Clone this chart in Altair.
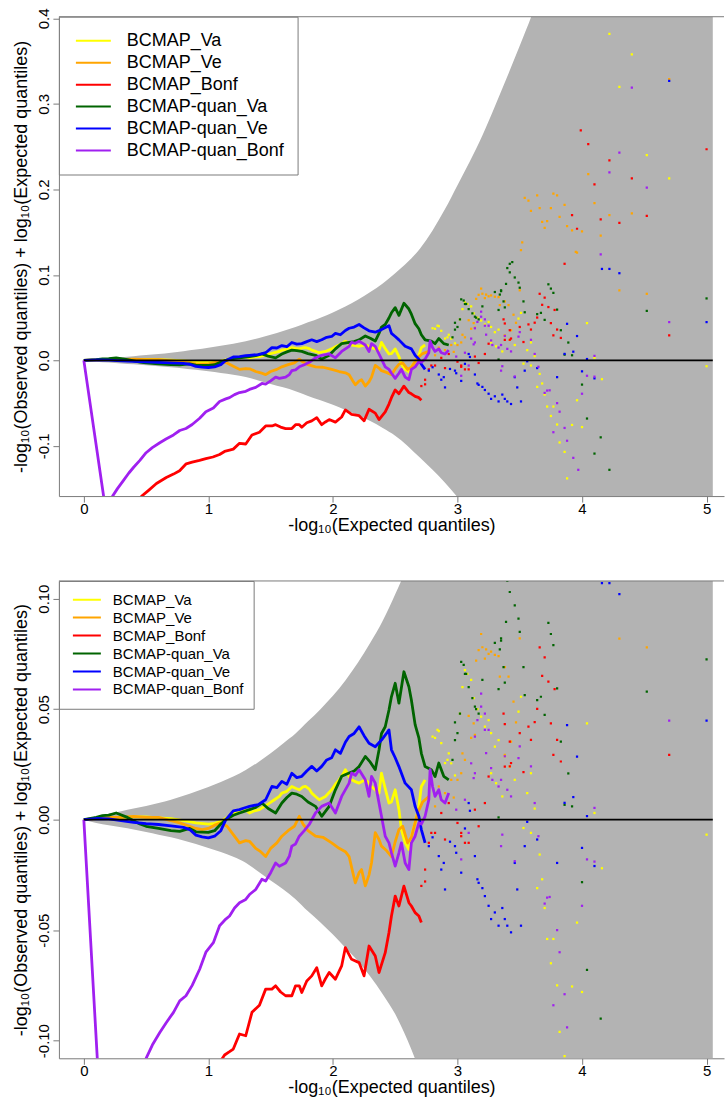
import altair as alt
import pandas as pd

FONT = "Liberation Sans"
SERIES = ["BCMAP_Va", "BCMAP_Ve", "BCMAP_Bonf", "BCMAP-quan_Va", "BCMAP-quan_Ve", "BCMAP-quan_Bonf"]
COLORS = ["#FFFF00", "#FFA500", "#FF0000", "#006400", "#0000FF", "#A020F0"]
BAND_COLOR = "#B3B3B3"
FRAME_COLOR = "#7a7a7a"

X_DOMAIN = [-0.2, 5.14]
X_TICKS = [0, 1, 2, 3, 4, 5]

# confidence band (upper / lower edge)
BAND_X = [0.0, 0.1, 0.2, 0.3, 0.4, 0.5, 0.6, 0.7, 0.8, 0.9, 1.0, 1.1, 1.2, 1.3, 1.4, 1.5, 1.6, 1.7,
          1.8, 1.9, 2.0, 2.1, 2.2, 2.3, 2.4, 2.5, 2.6, 2.7, 2.8, 2.9, 3.0, 3.1, 3.2, 3.3, 3.4, 3.5,
          3.6, 3.8, 4.0, 4.5, 5.05]
BAND_HI = [0.0, 0.0015, 0.0027, 0.0038, 0.005, 0.0062, 0.0075, 0.009, 0.0108, 0.0127, 0.0148,
           0.017, 0.0195, 0.0225, 0.026, 0.030, 0.0345, 0.039, 0.0445, 0.050, 0.056, 0.063, 0.071,
           0.080, 0.090, 0.102, 0.115, 0.131, 0.152, 0.177, 0.205, 0.233, 0.263, 0.297, 0.332,
           0.368, 0.405, 0.49, 0.60, 0.95, 1.5]
BAND_LO = [0.0, -0.0015, -0.0025, -0.0035, -0.0045, -0.0056, -0.0068, -0.008, -0.0094, -0.011,
           -0.0128, -0.0147, -0.0168, -0.0195, -0.0235, -0.0275, -0.0315, -0.036, -0.0415, -0.0465,
           -0.052, -0.058, -0.064, -0.071, -0.079, -0.088, -0.100, -0.114, -0.128, -0.143, -0.160,
           -0.178, -0.197, -0.218, -0.241, -0.265, -0.29, -0.345, -0.41, -0.6, -0.9]

ZERO_X = [0.0, 5.05]
ZERO_Y = [0.0, 0.0]

# ---- BCMAP_Va (yellow)
VA_LINE_X = [0, 0.1, 0.2, 0.3, 0.4, 0.5, 0.6, 0.7, 0.8, 0.9, 1.0, 1.05, 1.1, 1.15, 1.2, 1.25, 1.3,
             1.33, 1.37, 1.41, 1.45, 1.49, 1.53, 1.57, 1.59, 1.63, 1.67, 1.70, 1.73, 1.76, 1.78,
             1.81, 1.83, 1.86, 1.89, 1.94, 1.99, 2.02, 2.05, 2.08, 2.10, 2.13, 2.15, 2.18, 2.21,
             2.24, 2.26, 2.29, 2.31, 2.34, 2.37, 2.39, 2.42, 2.45, 2.47, 2.50, 2.53, 2.55, 2.58,
             2.61, 2.63, 2.66, 2.69, 2.71, 2.74]
VA_LINE_Y = [0, 0.0005, 0.0008, 0.001, 0.0012, 0.0012, 0.0008, 0.0004, -0.0005, -0.0015, -0.002,
             -0.0017, -0.0008, 0.001, 0.0028, 0.0038, 0.0045, 0.003, 0.004, 0.0045, 0.006, 0.0075,
             0.009, 0.0105, 0.012, 0.0128, 0.015, 0.0142, 0.0135, 0.0148, 0.015, 0.0138, 0.012,
             0.0105, 0.009, 0.0105, 0.0135, 0.016, 0.018, 0.0205, 0.0226, 0.0195, 0.018, 0.0172,
             0.0165, 0.0175, 0.018, 0.0165, 0.015, 0.0135, 0.012, 0.021, 0.014, 0.0075, 0.008,
             0.0135, 0.0045, -0.0045, -0.0105, -0.0135, -0.0075, -0.0015, 0.006, 0.015, 0.018]
VA_PTS_X = [2.80, 2.82, 2.84, 2.85, 2.87, 2.90, 2.92, 2.93, 2.95, 2.98, 3.02, 3.04, 3.06, 3.08,
            3.11, 3.13, 3.16, 3.19, 3.22, 3.25, 3.27, 3.27, 3.30, 3.31, 3.33, 3.36, 3.38, 3.42,
            3.46, 3.49, 3.51, 3.53, 3.56, 3.59, 3.59, 3.62, 3.64, 3.66, 3.68, 3.70, 3.72, 3.75,
            3.77, 3.80, 3.82, 3.86, 3.88, 3.92, 3.96, 4.00, 4.04, 4.10, 4.16, 4.22, 4.30, 4.40,
            4.52, 4.70, 5.0]
VA_PTS_Y = [0.0376, 0.037, 0.0406, 0.040, 0.0346, 0.0256, 0.027, 0.030, 0.0255, 0.020, 0.048,
            0.060, 0.0677, 0.066, 0.0632, 0.055, 0.050, 0.0466, 0.0421, 0.045, 0.0391, 0.021,
            0.033, 0.0165, 0.036, 0.0105, 0.0285, 0.024, 0.018, 0.0489, 0.0556, -0.0038, 0.012,
            0.021, -0.006, 0.005, -0.031, -0.0158, -0.027, -0.040, -0.054, -0.065, -0.054, -0.075,
            -0.096, -0.107, -0.138, -0.0755, -0.0466, -0.078, 0.0436, 0.003, -0.022, 0.382, 0.320,
            0.358, 0.240, 0.213, -0.0068]

# ---- BCMAP_Ve (orange)
VE_LINE_X = [0, 0.1, 0.2, 0.3, 0.4, 0.5, 0.6, 0.7, 0.77, 0.85, 0.9, 0.95, 1.0, 1.05, 1.1, 1.15, 1.2,
             1.25, 1.3, 1.33, 1.38, 1.42, 1.46, 1.5, 1.55, 1.59, 1.64, 1.69, 1.73, 1.76, 1.8, 1.86,
             1.92, 1.99, 2.05, 2.10, 2.13, 2.16, 2.18, 2.21, 2.23, 2.26, 2.29, 2.31, 2.34, 2.37,
             2.39, 2.43, 2.47, 2.50, 2.53, 2.56, 2.60, 2.63, 2.68, 2.72, 2.77]
VE_LINE_Y = [0, 0.0005, 0.001, 0.001, 0.0015, 0.001, 0.001, -0.0005, -0.0015, -0.003, -0.004,
             -0.0045, -0.004, -0.0025, -0.0015, -0.003, -0.0068, -0.0105, -0.0095, -0.0098, -0.013,
             -0.0145, -0.0167, -0.013, -0.0105, -0.0075, -0.005, -0.003, 0.0015, -0.002, -0.005,
             -0.0075, -0.008, -0.0105, -0.013, -0.0145, -0.0167, -0.024, -0.0286, -0.024, -0.0226,
             -0.030, -0.025, -0.0195, -0.0059, -0.009, -0.012, -0.014, -0.0167, -0.010, -0.0045,
             -0.003, -0.0105, -0.008, 0.003, 0.008, 0.0105]
VE_PTS_X = [2.82, 2.85, 2.90, 2.95, 2.97, 3.00, 3.03, 3.04, 3.06, 3.09, 3.11, 3.13, 3.14, 3.15,
            3.17, 3.19, 3.20, 3.22, 3.23, 3.25, 3.27, 3.30, 3.33, 3.34, 3.38, 3.38, 3.41, 3.43,
            3.45, 3.47, 3.50, 3.51, 3.52, 3.54, 3.57, 3.59, 3.64, 3.66, 3.68, 3.70, 3.72, 3.75,
            3.77, 3.80, 3.82, 3.86, 3.88, 3.92, 3.95, 3.96, 4.00, 4.05, 4.10, 4.15, 4.22, 4.30,
            4.40, 4.52, 4.70]
VE_PTS_Y = [0.006, 0.015, 0.012, 0.018, 0.010, 0.018, 0.021, 0.030, 0.027, 0.047, 0.037, 0.0436,
            0.0384, 0.072, 0.0767, 0.084, 0.078, 0.0729, 0.077, 0.075, 0.076, 0.0745, 0.074,
            0.0647, 0.069, 0.0293, 0.0647, 0.0353, 0.0534, 0.044, 0.082, 0.129, 0.138, 0.190,
            0.187, 0.175, 0.193, 0.178, 0.162, 0.155, 0.163, 0.178, 0.195, 0.193, 0.168, 0.182,
            0.157, 0.152, 0.127, 0.126, 0.151, 0.218, 0.184, 0.146, 0.170, 0.0819, 0.172, 0.0779,
            0.329]

# ---- BCMAP_Bonf (red)
BO_LINE_X = [0.35, 0.42, 0.463, 0.52, 0.583, 0.662, 0.72, 0.769, 0.822, 0.87, 0.929, 0.98, 1.036,
             1.09, 1.13, 1.17, 1.20, 1.25, 1.30, 1.35, 1.41, 1.46, 1.51, 1.54, 1.58, 1.62, 1.67,
             1.70, 1.73, 1.75, 1.79, 1.83, 1.87, 1.91, 1.94, 1.97, 2.02, 2.07, 2.10, 2.15, 2.21,
             2.25, 2.29, 2.34, 2.37, 2.42, 2.45, 2.47, 2.50, 2.53, 2.57, 2.61, 2.63, 2.66, 2.69,
             2.71]
BO_LINE_Y = [-0.2, -0.172, -0.159, -0.152, -0.144, -0.137, -0.133, -0.129, -0.121, -0.119, -0.117,
             -0.115, -0.113, -0.110, -0.1065, -0.105, -0.1038, -0.097, -0.0978, -0.0872, -0.084,
             -0.0767, -0.0767, -0.0752, -0.078, -0.0797, -0.0797, -0.0752, -0.0752, -0.0782,
             -0.073, -0.0707, -0.067, -0.0752, -0.072, -0.0692, -0.0722, -0.0662, -0.0579,
             -0.0632, -0.0647, -0.0707, -0.0572, -0.0617, -0.0692, -0.0602, -0.0511, -0.0436,
             -0.0346, -0.0391, -0.0301, -0.0376, -0.0391, -0.0421, -0.0436, -0.0466]
BO_PTS_X = [2.71, 2.74, 2.74, 2.77, 2.79, 2.82, 2.87, 2.90, 2.93, 3.00, 3.03, 3.03, 3.06, 3.09,
            3.14, 3.17, 3.22, 3.25, 3.37, 3.38, 3.38, 3.42, 3.42, 3.43, 3.50, 3.53, 3.57, 3.59,
            3.62, 3.64, 3.66, 3.68, 3.70, 3.73, 3.75, 3.77, 3.78, 3.80, 3.83, 3.86, 3.92, 3.96,
            3.99, 4.05, 4.10, 4.15, 4.22, 4.30, 4.40, 4.52, 4.70, 5.0]
BO_PTS_Y = [-0.030, -0.0226, -0.028, -0.0105, -0.006, -0.006, 0.003, -0.009, 0.0075, -0.0015,
            -0.0075, -0.006, -0.0105, -0.0105, 0.0045, -0.003, 0.0075, 0.0195, 0.048, 0.0432,
            0.024, 0.0353, 0.0241, 0.0256, 0.0391, 0.0215, 0.0421, 0.0361, 0.0441, 0.0501, 0.0779,
            0.0650, 0.0734, 0.0624, 0.0436, 0.0293, 0.059, 0.0361, 0.0263, 0.113, 0.170, 0.154,
            0.269, 0.253, 0.206, 0.165, 0.234, 0.161, 0.213, 0.169, 0.0293, 0.247]

# ---- BCMAP-quan_Va (dark green)
QA_LINE_X = [0, 0.1, 0.15, 0.2, 0.26, 0.35, 0.45, 0.5, 0.6, 0.7, 0.77, 0.85, 0.9, 1.0, 1.05, 1.1,
             1.14, 1.2, 1.25, 1.33, 1.38, 1.43, 1.48, 1.54, 1.59, 1.63, 1.67, 1.71, 1.75, 1.80,
             1.86, 1.91, 1.97, 2.02, 2.07, 2.13, 2.17, 2.21, 2.26, 2.30, 2.34, 2.37, 2.39, 2.42,
             2.45, 2.47, 2.50, 2.53, 2.57, 2.61, 2.63, 2.66, 2.69, 2.71, 2.74, 2.79, 2.82, 2.85,
             2.89, 2.93]
QA_LINE_Y = [0, 0.001, 0.0018, 0.002, 0.003, 0.001, -0.002, -0.003, -0.004, -0.005, -0.0053,
             -0.004, -0.0055, -0.0058, -0.005, -0.002, 0.0, 0.002, 0.003, 0.0045, 0.0055, 0.0075,
             0.005, 0.003, 0.0075, 0.010, 0.012, 0.0115, 0.0105, 0.008, 0.006, 0.0015, 0.006,
             0.0135, 0.0196, 0.0211, 0.022, 0.024, 0.0286, 0.026, 0.0226, 0.0315, 0.039, 0.042,
             0.0496, 0.0557, 0.0617, 0.0527, 0.0669, 0.0601, 0.0541, 0.043, 0.037, 0.030, 0.024,
             0.0226, 0.0195, 0.0256, 0.0196, 0.018]
QA_PTS_X = [2.96, 2.98, 2.98, 3.00, 3.02, 3.03, 3.05, 3.06, 3.07, 3.09, 3.12, 3.14, 3.15, 3.17,
            3.20, 3.30, 3.33, 3.33, 3.34, 3.35, 3.35, 3.37, 3.38, 3.39, 3.40, 3.42, 3.42, 3.44,
            3.46, 3.49, 3.50, 3.53, 3.54, 3.64, 3.67, 3.70, 3.73, 3.75, 3.77, 3.80, 3.83, 3.86,
            3.89, 3.92, 4.00, 4.04, 4.10, 4.15, 4.22, 4.52, 5.0]
QA_PTS_Y = [0.027, 0.036, 0.044, 0.0391, 0.048, 0.0714, 0.070, 0.066, 0.066, 0.060, 0.055, 0.0511,
            0.050, 0.048, 0.0632, 0.080, 0.059, 0.001, 0.077, 0.081, 0.082, 0.069, 0.062, 0.0895,
            0.108, 0.103, 0.113, 0.115, 0.097, 0.091, 0.085, 0.069, 0.0563, 0.0541, 0.0556,
            0.0474, 0.089, 0.084, 0.079, 0.0594, 0.0353, 0.0067, 0.0209, 0.006, -0.0283, -0.068,
            -0.109, -0.090, -0.128, 0.0579, 0.0725]

# ---- BCMAP-quan_Ve (blue)
QE_LINE_X = [0, 0.1, 0.2, 0.3, 0.4, 0.5, 0.6, 0.7, 0.8, 0.85, 0.9, 0.95, 1.0, 1.05, 1.1, 1.14, 1.2,
             1.25, 1.3, 1.33, 1.4, 1.46, 1.51, 1.55, 1.59, 1.63, 1.67, 1.71, 1.75, 1.79, 1.83, 1.87,
             1.91, 1.95, 1.99, 2.02, 2.06, 2.10, 2.13, 2.17, 2.21, 2.25, 2.29, 2.34, 2.39, 2.43,
             2.45, 2.47, 2.50, 2.53, 2.58, 2.63, 2.66, 2.69, 2.71, 2.74]
QE_LINE_Y = [0, 0.0005, 0.0003, -0.0005, -0.0012, -0.0018, -0.0022, -0.0028, -0.0035, -0.0045,
             -0.007, -0.0078, -0.0083, -0.0075, -0.005, 0.0, 0.004, 0.0045, 0.0055, 0.006, 0.0068,
             0.009, 0.015, 0.0145, 0.0173, 0.016, 0.021, 0.019, 0.0196, 0.022, 0.0241, 0.022,
             0.0241, 0.027, 0.028, 0.0316, 0.030, 0.035, 0.0376, 0.039, 0.042, 0.038, 0.0346,
             0.033, 0.036, 0.039, 0.0406, 0.0316, 0.028, 0.024, 0.0165, 0.0135, 0.006, 0.0015,
             -0.0045, -0.0105]
QE_PTS_X = [2.77, 2.80, 2.85, 2.87, 2.89, 2.90, 2.94, 2.98, 2.99, 3.03, 3.06, 3.09, 3.10, 3.14,
            3.16, 3.17, 3.20, 3.22, 3.25, 3.27, 3.30, 3.33, 3.36, 3.38, 3.40, 3.43, 3.46, 3.48,
            3.51, 3.54, 3.56, 3.64, 3.80, 3.86, 3.88, 3.93, 3.96, 4.00, 4.04, 4.10, 4.16, 4.22,
            4.30, 4.70, 5.0]
QE_PTS_Y = [-0.012, -0.008, -0.0165, -0.0226, -0.0196, -0.0316, -0.010, -0.012, -0.015, -0.024,
            -0.004, 0.0075, 0.004, -0.0165, -0.027, -0.0286, -0.031, -0.0346, -0.039, -0.045,
            -0.042, -0.048, -0.040, -0.045, -0.048, -0.051, -0.0196, -0.0316, -0.048, -0.012,
            -0.001, -0.009, -0.0196, 0.0076, 0.0428, 0.0102, 0.0285, -0.0128, 0.0016, -0.021,
            0.107, 0.107, 0.102, 0.327, 0.0448]

# ---- BCMAP-quan_Bonf (purple)
QB_LINE_X = [0, 0.2, 0.2, 0.23, 0.27, 0.32, 0.36, 0.40, 0.45, 0.50, 0.55, 0.61, 0.66, 0.72, 0.77,
             0.82, 0.87, 0.93, 0.98, 1.04, 1.09, 1.14, 1.17, 1.21, 1.25, 1.30, 1.33, 1.38, 1.43,
             1.46, 1.50, 1.54, 1.57, 1.62, 1.65, 1.67, 1.70, 1.73, 1.77, 1.81, 1.86, 1.91, 1.97,
             2.02, 2.07, 2.13, 2.15, 2.18, 2.21, 2.26, 2.29, 2.31, 2.34, 2.37, 2.39, 2.42, 2.45,
             2.47, 2.50, 2.53, 2.55, 2.58, 2.61, 2.63, 2.66, 2.69, 2.71, 2.74, 2.77, 2.78, 2.80,
             2.82, 2.85, 2.87, 2.90, 2.93]
QB_LINE_Y = [0, -0.2, -0.168, -0.159, -0.150, -0.140, -0.132, -0.125, -0.117, -0.108, -0.102,
             -0.0963, -0.092, -0.0872, -0.082, -0.0797, -0.075, -0.0677, -0.060, -0.0557, -0.048,
             -0.045, -0.0436, -0.040, -0.0376, -0.0361, -0.0339, -0.0316, -0.027, -0.0278, -0.024,
             -0.0196, -0.0211, -0.0196, -0.0166, -0.012, -0.011, -0.0075, -0.005, -0.0022, 0.003,
             0.006, 0.0075, 0.003, 0.0105, 0.0165, 0.0211, 0.020, 0.0226, 0.018, 0.0105, 0.0196,
             0.0165, 0.0075, 0.0015, -0.0075, -0.0105, -0.015, -0.021, -0.015, -0.0105, -0.0196,
             -0.0226, -0.0105, -0.0075, -0.0015, -0.002, 0.0015, 0.009, 0.0226, 0.015, 0.0105,
             0.0135, 0.009, 0.0075, 0.012]
QB_PTS_X = [2.99, 3.03, 3.06, 3.09, 3.11, 3.13, 3.14, 3.14, 3.16, 3.19, 3.19, 3.22, 3.22, 3.23,
            3.25, 3.27, 3.28, 3.33, 3.35, 3.35, 3.36, 3.38, 3.40, 3.43, 3.46, 3.49, 3.50, 3.59,
            3.62, 3.65, 3.70, 3.72, 3.74, 3.77, 3.80, 3.82, 3.86, 3.88, 3.93, 3.97, 4.00, 4.04,
            4.10, 4.10, 4.15, 4.22, 4.30, 4.40, 4.52, 4.70]
QB_PTS_Y = [0.0045, -0.018, 0.009, -0.006, 0.0255, 0.0188, 0.021, 0.0376, 0.045, 0.0511, 0.057,
            0.048, 0.0406, 0.0301, 0.0406, 0.0233, 0.018, 0.015, 0.018, -0.012, -0.0068, 0.0286,
            0.0135, 0.0105, -0.0188, 0.0278, 0.0331, 0.0241, 0.0075, -0.0075, -0.038, -0.0353,
            -0.035, -0.084, -0.050, -0.060, -0.079, -0.094, -0.114, -0.128, -0.039, -0.018,
            0.0053, -0.019, 0.124, 0.220, 0.243, 0.319, 0.202, 0.0448]

LINE_DATA = [(VA_LINE_X, VA_LINE_Y), (VE_LINE_X, VE_LINE_Y), (BO_LINE_X, BO_LINE_Y),
             (QA_LINE_X, QA_LINE_Y), (QE_LINE_X, QE_LINE_Y), (QB_LINE_X, QB_LINE_Y)]
PTS_DATA = [(VA_PTS_X, VA_PTS_Y), (VE_PTS_X, VE_PTS_Y), (BO_PTS_X, BO_PTS_Y),
            (QA_PTS_X, QA_PTS_Y), (QE_PTS_X, QE_PTS_Y), (QB_PTS_X, QB_PTS_Y)]

band_df = pd.DataFrame({"x": BAND_X, "hi": BAND_HI, "lo": BAND_LO})
zero_df = pd.DataFrame({"x": ZERO_X, "y": ZERO_Y})
line_dfs = [pd.DataFrame({"x": xs, "y": ys, "series": s}) for s, (xs, ys) in zip(SERIES, LINE_DATA)]
pts_dfs = [pd.DataFrame({"x": xs, "y": ys, "series": s}) for s, (xs, ys) in zip(SERIES, PTS_DATA)]

X_TITLE = "-log₁₀(Expected quantiles)"
Y_TITLE = "-log₁₀(Observed quantiles) + log₁₀(Expected quantiles)"


def panel(y_domain, y_ticks, y_fmt, height, legend):
    xs = alt.Scale(domain=X_DOMAIN, nice=False, zero=False)
    ys = alt.Scale(domain=y_domain, nice=False, zero=False)
    cs = alt.Scale(domain=SERIES, range=COLORS)
    x_axis = alt.Axis(title=X_TITLE, values=X_TICKS, format="d", grid=False, tickSize=6,
                      labelPadding=-1, labelFontSize=15, labelFont=FONT, labelColor="black",
                      titleFontSize=18, titleFont=FONT, titleFontWeight="normal",
                      titleColor="black", titlePadding=0, domainColor=FRAME_COLOR,
                      tickColor=FRAME_COLOR, labelFlush=False, labelOverlap=False)
    y_axis = alt.Axis(title=Y_TITLE, values=y_ticks, grid=False, tickSize=6, labelPadding=1,
                      labelAngle=-90, labelFontSize=15, labelFont=FONT, labelColor="black",
                      labelExpr="replace(format(datum.value, '" + y_fmt + "'), '\u2212', '-')",
                      titleFontSize=18, titleFont=FONT, titleFontWeight="normal",
                      titleColor="black", titlePadding=6, domainColor=FRAME_COLOR,
                      tickColor=FRAME_COLOR, labelFlush=False, labelOverlap=False)
    X = alt.X("x:Q", scale=xs, axis=x_axis)
    band = alt.Chart(band_df).mark_area(color=BAND_COLOR, clip=True, interpolate="monotone").encode(
        x=X, y=alt.Y("lo:Q", scale=ys, axis=y_axis), y2="hi:Q")
    layers = [band]
    color = alt.Color("series:N", scale=cs, legend=legend)
    for ldf, pdf in zip(line_dfs, pts_dfs):
        layers.append(alt.Chart(ldf).mark_line(strokeWidth=2.8, clip=True, strokeJoin="round").encode(
            x=X, y=alt.Y("y:Q", scale=ys, axis=y_axis), color=color))
        layers.append(alt.Chart(pdf).mark_square(size=5, clip=True, opacity=1).encode(
            x=X, y=alt.Y("y:Q", scale=ys, axis=y_axis), color=color))
    zero = alt.Chart(zero_df).mark_line(color="black", strokeWidth=1.6, clip=True).encode(
        x=X, y=alt.Y("y:Q", scale=ys, axis=y_axis))
    top_df = pd.DataFrame({"x": [X_DOMAIN[0]], "x2": [X_DOMAIN[1]], "y": [y_domain[1]]})
    top = alt.Chart(top_df).mark_rule(color=FRAME_COLOR, strokeWidth=1).encode(
        x=X, x2="x2:Q", y=alt.Y("y:Q", scale=ys, axis=y_axis))
    layers += [zero, top]
    return alt.layer(*layers).properties(width=666, height=height)


legend1 = alt.Legend(title=None, orient="top-left", offset=0, symbolType="stroke",
                     symbolSize=1225, symbolStrokeWidth=2, labelFontSize=18, labelFont=FONT,
                     labelColor="black", padding=13, clipHeight=22, rowPadding=0,
                     symbolOffset=3, labelOffset=15, strokeColor=FRAME_COLOR,
                     fillColor="white", labelLimit=0)
legend2 = alt.Legend(title=None, orient="top-left", offset=0, symbolType="stroke",
                     symbolSize=784, symbolStrokeWidth=2, labelFontSize=15, labelFont=FONT,
                     labelColor="black", padding=10, clipHeight=17.4, rowPadding=0,
                     symbolOffset=3, labelOffset=11, strokeColor=FRAME_COLOR,
                     fillColor="white", labelLimit=0)

p1 = panel([-0.1587, 0.402], [-0.1, 0.0, 0.1, 0.2, 0.3, 0.4], ".1f", 480, legend1)
p2 = panel([-0.108, 0.108], [-0.10, -0.05, 0.0, 0.05, 0.10], ".2f", 478, legend2)

chart = alt.vconcat(p1, p2, spacing=46).resolve_scale(
    x="independent", y="independent", color="independent"
).resolve_legend(color="independent").properties(
    padding={"left": 13, "top": 7, "right": 0, "bottom": 0}
).configure(font=FONT).configure_view(stroke=None)

chart.save("out.html", embed_options={"renderer": "svg", "actions": False})
